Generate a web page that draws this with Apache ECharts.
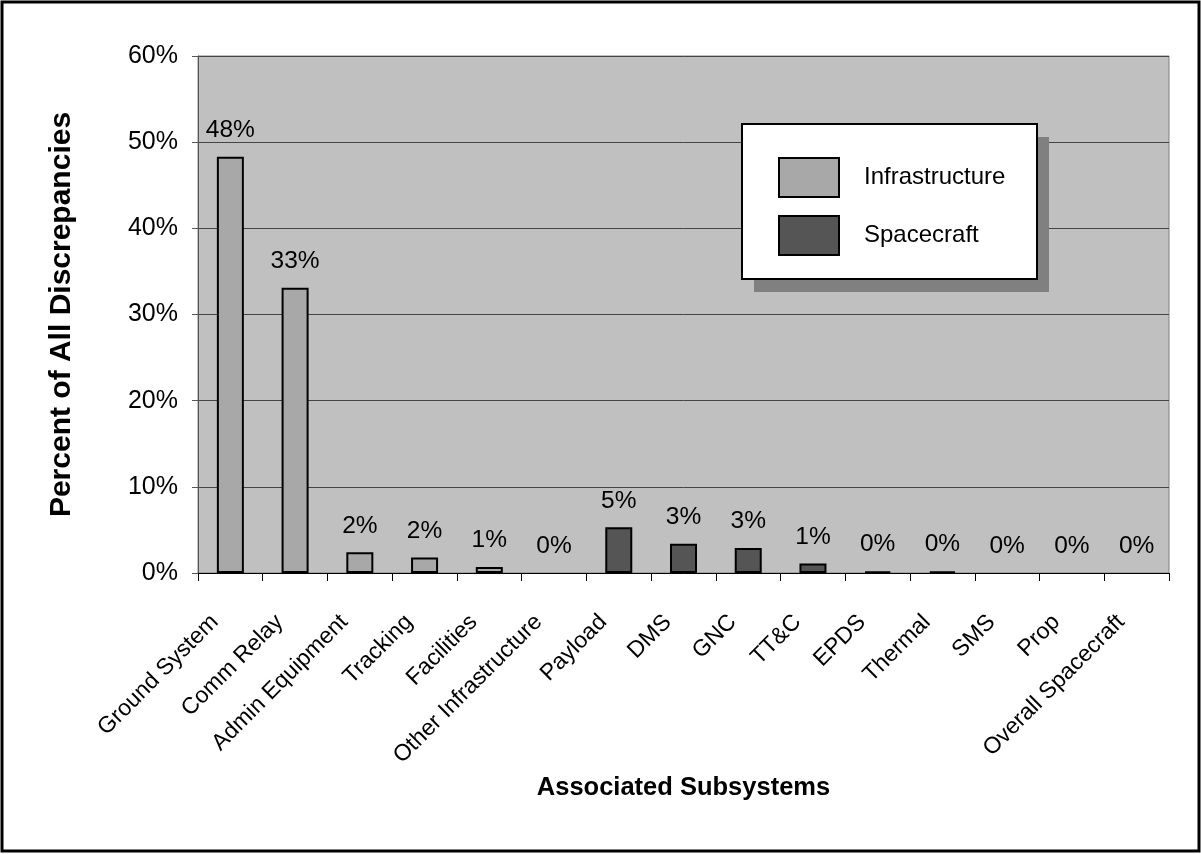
<!DOCTYPE html>
<html>
<head>
<meta charset="utf-8">
<script src="https://cdn.jsdelivr.net/npm/echarts@6/dist/echarts.min.js"></script>
<style>
  html, body { margin: 0; padding: 0; background: #fff; }
  #main { width: 1201px; height: 854px; }
</style>
</head>
<body>
<div id="main"></div>
<script>
// categories along the x axis
var subsystems = ['Ground System', 'Comm Relay', 'Admin Equipment', 'Tracking', 'Facilities',
  'Other Infrastructure', 'Payload', 'DMS', 'GNC', 'TT&C', 'EPDS', 'Thermal', 'SMS', 'Prop',
  'Overall Spacecraft']
// percent of all discrepancies, '-' where the group does not apply
var infrastructure = [48.3, 33.1, 2.4, 1.8, 0.7, 0, '-', '-', '-', '-', '-', '-', '-', '-', '-']
var spacecraft = ['-', '-', '-', '-', '-', '-', 5.3, 3.4, 2.9, 1.1, 0.2, 0.2, 0, 0, 0]
var yTicks = [0, 10, 20, 30, 40, 50, 60]

var font = 'Arial, "Liberation Sans", sans-serif'

function toItems(values) {
  // zero height bars have no outline in the original
  return values.map(function (v) {
    if (v === 0) return { value: v, itemStyle: { borderWidth: 0 } }
    return v
  })
}

var label = {
  show: true,
  position: 'top',
  distance: 14,
  color: '#000',
  fontFamily: font,
  fontSize: 24.5,
  formatter: function (p) { return Math.round(p.value) + '%' }
}

var chart = echarts.init(document.getElementById('main'))
chart.setOption({
  animation: false,
  backgroundColor: '#fff',
  textStyle: { fontFamily: font },
  grid: {
    left: 198,
    top: 56,
    right: 32,
    bottom: 281,
    show: true,
    backgroundColor: '#c0c0c0',
    borderColor: '#808080',
    borderWidth: 1
  },
  legend: {
    orient: 'vertical',
    left: 742,
    top: 124,
    icon: 'rect',
    itemWidth: 60,
    itemHeight: 39,
    itemGap: 17,
    padding: [33, 30, 26, 36],
    textStyle: {
      color: '#000',
      fontFamily: font,
      fontSize: 24,
      padding: [0, 0, 0, 20]
    },
    data: ['Infrastructure', 'Spacecraft']
  },
  xAxis: {
    type: 'category',
    data: subsystems,
    name: 'Associated Subsystems',
    nameLocation: 'middle',
    nameGap: 194,
    nameTextStyle: { color: '#000', fontFamily: font, fontSize: 25.5, fontWeight: 'bold' },
    axisLine: { lineStyle: { color: '#000', width: 1 } },
    axisTick: { show: true, length: 8, lineStyle: { color: '#000' } },
    axisLabel: {
      interval: 0,
      rotate: 45,
      margin: 30,
      padding: [0, 22, 0, 0],
      color: '#000',
      fontFamily: font,
      fontSize: 23
    }
  },
  yAxis: {
    type: 'value',
    min: yTicks[0],
    max: yTicks[yTicks.length - 1],
    interval: 10,
    name: 'Percent of All Discrepancies',
    nameLocation: 'middle',
    nameRotate: 90,
    nameGap: 121,
    nameTextStyle: { color: '#000', fontFamily: font, fontSize: 30, fontWeight: 'bold' },
    axisLine: { show: true, lineStyle: { color: '#555', width: 1 } },
    axisTick: { show: true, length: 6, lineStyle: { color: '#555' } },
    axisLabel: {
      margin: 20,
      color: '#000',
      fontFamily: font,
      fontSize: 25,
      formatter: '{value}%'
    },
    splitLine: { lineStyle: { color: '#444', width: 1 } }
  },
  series: [
    {
      name: 'Infrastructure',
      type: 'bar',
      stack: 'all',
      barWidth: 27,
      itemStyle: { color: '#a8a8a8', borderColor: '#000', borderWidth: 2 },
      label: label,
      data: toItems(infrastructure)
    },
    {
      name: 'Spacecraft',
      type: 'bar',
      stack: 'all',
      barWidth: 27,
      itemStyle: { color: '#555555', borderColor: '#000', borderWidth: 2 },
      label: label,
      data: toItems(spacecraft)
    }
  ],
  graphic: [
    {
      // legend drop shadow
      type: 'rect',
      silent: true,
      z: 3,
      shape: { x: 754, y: 137, width: 295, height: 155 },
      style: { fill: '#808080' }
    },
    {
      // legend box
      type: 'rect',
      silent: true,
      z: 3,
      shape: { x: 742, y: 124, width: 295, height: 155 },
      style: { fill: '#fff', stroke: '#000', lineWidth: 2 }
    },
    {
      // outer chart frame
      type: 'rect',
      silent: true,
      z: 3,
      shape: { x: 2, y: 2, width: 1197, height: 849 },
      style: { fill: null, stroke: '#000', lineWidth: 3 }
    }
  ]
})
</script>
</body>
</html>
